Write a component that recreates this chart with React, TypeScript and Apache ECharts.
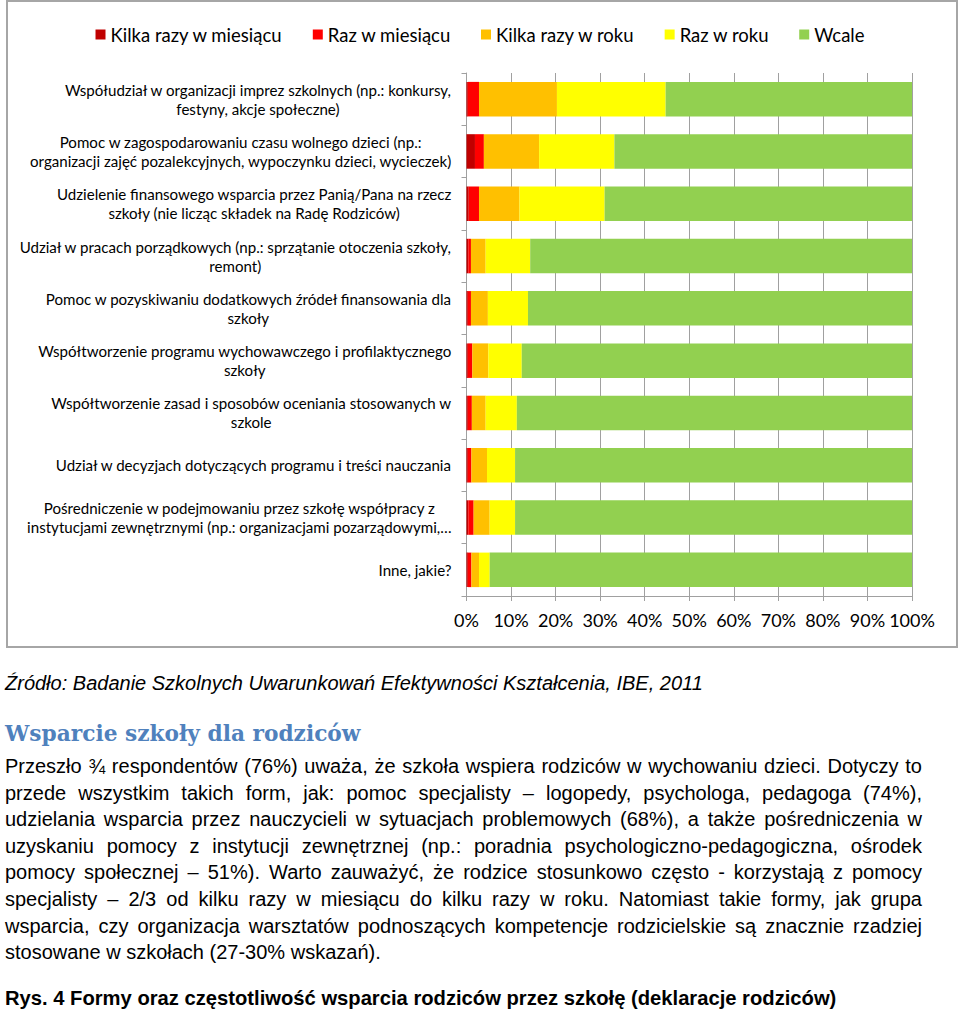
import React, { useEffect, useRef } from "react";
import * as echarts from "echarts";

const categories: string[] = [
  "Współudział w organizacji imprez szkolnych (np.: konkursy,\nfestyny, akcje społeczne)",
  "Pomoc w zagospodarowaniu czasu wolnego dzieci (np.:\norganizacji zajęć pozalekcyjnych, wypoczynku dzieci, wycieczek)",
  "Udzielenie finansowego wsparcia przez Panią/Pana na rzecz\nszkoły (nie licząc składek na Radę Rodziców)",
  "Udział w pracach porządkowych (np.: sprzątanie otoczenia szkoły,\nremont)",
  "Pomoc w pozyskiwaniu dodatkowych źródeł finansowania dla\nszkoły",
  "Współtworzenie programu wychowawczego i profilaktycznego\nszkoły",
  "Współtworzenie zasad i sposobów oceniania stosowanych w\nszkole",
  "Udział w decyzjach dotyczących programu i treści nauczania",
  "Pośredniczenie w podejmowaniu przez szkołę współpracy z\ninstytucjami zewnętrznymi (np.: organizacjami pozarządowymi,…",
  "Inne, jakie?",
];

const seriesNames: string[] = [
  "Kilka razy w miesiącu",
  "Raz w miesiącu",
  "Kilka razy w roku",
  "Raz w roku",
  "Wcale",
];

const kilkaRazyWMiesiacu: number[] = [0.3, 1.9, 0.5, 0.4, 0.3, 0.3, 0.3, 0.3, 0.4, 0.3];
const razWMiesiacu: number[] = [2.5, 2.0, 2.3, 0.6, 0.7, 1.0, 0.9, 0.8, 1.2, 0.8];
const kilkaRazyWRoku: number[] = [17.5, 12.4, 9.1, 3.3, 3.8, 3.6, 3.1, 3.5, 3.6, 1.7];
const razWRoku: number[] = [24.4, 16.9, 19.1, 10.0, 9.0, 7.5, 7.0, 6.3, 5.7, 2.4];
const wcale: number[] = [55.3, 66.8, 69.0, 85.7, 86.2, 87.6, 88.7, 89.1, 89.1, 94.8];

const seriesValues: number[][] = [kilkaRazyWMiesiacu, razWMiesiacu, kilkaRazyWRoku, razWRoku, wcale];
const seriesColors: string[] = ["#C00000", "#FF0000", "#FFC000", "#FFFF00", "#92D050"];

const paragraphLines: string[] = [
  "Przeszło ¾ respondentów (76%) uważa, że szkoła wspiera rodziców w wychowaniu dzieci. Dotyczy to",
  "przede wszystkim takich form, jak: pomoc specjalisty – logopedy, psychologa, pedagoga (74%),",
  "udzielania wsparcia przez nauczycieli w sytuacjach problemowych (68%), a także pośredniczenia w",
  "uzyskaniu pomocy z instytucji zewnętrznej (np.: poradnia psychologiczno-pedagogiczna, ośrodek",
  "pomocy społecznej – 51%). Warto zauważyć, że rodzice stosunkowo często - korzystają z pomocy",
  "specjalisty – 2/3 od kilku razy w miesiącu do kilku razy w roku. Natomiast takie formy, jak grupa",
  "wsparcia, czy organizacja warsztatów podnoszących kompetencje rodzicielskie są znacznie rzadziej",
  "stosowane w szkołach (27-30% wskazań).",
];

const Chart: React.FC = () => {
  const ref = useRef<HTMLDivElement>(null);
  useEffect(() => {
    if (!ref.current) return;
    const chart = echarts.init(ref.current, undefined, { renderer: "svg" });
    const font = "Lato, 'Open Sans', sans-serif";
    chart.setOption({
      animation: false,
      backgroundColor: "#ffffff",
      graphic: [
        {
          type: "rect",
          shape: { x: 7, y: 1, width: 950, height: 646 },
          style: { fill: "none", stroke: "#a6a6a6", lineWidth: 2 },
          silent: true,
        },
      ],
      legend: {
        top: 20,
        left: "center",
        icon: "rect",
        itemWidth: 10,
        itemHeight: 10,
        itemGap: 30,
        textStyle: { fontFamily: font, fontSize: 18.5, color: "#000" },
        data: seriesNames,
      },
      grid: { left: 466.5, right: 48, top: 73, bottom: 54 },
      xAxis: {
        type: "value",
        min: 0,
        max: 100,
        interval: 10,
        axisLine: { show: true, lineStyle: { color: "#a0a0a0", width: 1 } },
        axisTick: { show: true, length: 5, lineStyle: { color: "#a0a0a0" } },
        splitLine: { show: true, lineStyle: { color: "#a0a0a0", width: 1 } },
        axisLabel: {
          formatter: "{value}%",
          fontFamily: font,
          fontSize: 18,
          color: "#000",
          margin: 15,
        },
      },
      yAxis: {
        type: "category",
        inverse: true,
        data: categories,
        axisLine: { show: true, lineStyle: { color: "#a0a0a0", width: 1 } },
        axisTick: { show: true, length: 5, lineStyle: { color: "#a0a0a0" } },
        axisLabel: {
          margin: 15,
          formatter: (v: string) =>
            v
              .split("\n")
              .map((l) => `{c|${l}}`)
              .join("\n"),
          rich: {
            c: {
              align: "center",
              fontFamily: font,
              fontSize: 15.1,
              lineHeight: 19,
              color: "#000",
            },
          },
        },
      },
      series: seriesNames.map((name, i) => ({
        name,
        type: "bar",
        stack: "total",
        barCategoryGap: "34%",
        itemStyle: { color: seriesColors[i] },
        data: seriesValues[i],
      })),
    });
    return () => chart.dispose();
  }, []);
  return (
    <div
      ref={ref}
      style={{ position: "absolute", left: 0, top: 0, width: 960, height: 650 }}
    />
  );
};

const App: React.FC = () => {
  const sans = "'Liberation Sans', Arial, sans-serif";
  return (
    <div
      style={{
        position: "absolute",
        left: 0,
        top: 0,
        width: 960,
        height: 1010,
        background: "#fff",
        overflow: "hidden",
        color: "#000",
      }}
    >
      <Chart />
      <div
        style={{
          position: "absolute",
          left: 5,
          top: 670,
          fontFamily: sans,
          fontStyle: "italic",
          fontSize: 20,
          lineHeight: "26px",
          whiteSpace: "nowrap",
        }}
      >
        Źródło: Badanie Szkolnych Uwarunkowań Efektywności Kształcenia, IBE, 2011
      </div>
      <div
        style={{
          position: "absolute",
          left: 5,
          top: 719,
          fontFamily: "'DejaVu Serif', 'Liberation Serif', serif",
          fontWeight: "bold",
          fontSize: 21.7,
          lineHeight: "30px",
          color: "#4F81BD",
          whiteSpace: "nowrap",
        }}
      >
        Wsparcie szkoły dla rodziców
      </div>
      {paragraphLines.map((line, i) => {
        const last = i === paragraphLines.length - 1;
        return (
          <div
            key={i}
            style={{
              position: "absolute",
              left: 5,
              top: 753 + i * 26.6,
              width: 917,
              fontFamily: sans,
              fontSize: 20,
              lineHeight: "26px",
              textAlign: last ? "left" : "justify",
              textAlignLast: last ? "left" : "justify",
              whiteSpace: "nowrap",
            }}
          >
            {line}
          </div>
        );
      })}
      <div
        style={{
          position: "absolute",
          left: 5,
          top: 985,
          fontFamily: sans,
          fontWeight: "bold",
          fontSize: 20.2,
          lineHeight: "26px",
          whiteSpace: "nowrap",
        }}
      >
        Rys. 4 Formy oraz częstotliwość wsparcia rodziców przez szkołę (deklaracje rodziców)
      </div>
    </div>
  );
};

export default App;
